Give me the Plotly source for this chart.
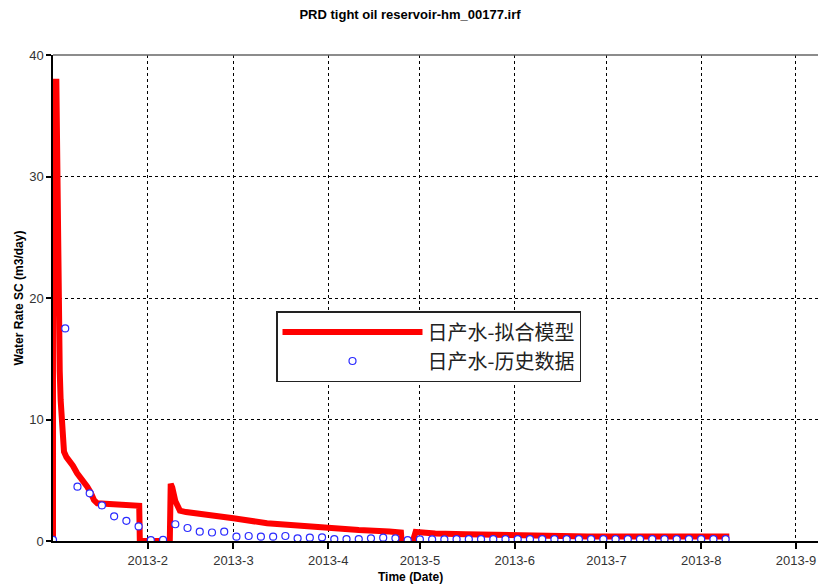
import pandas as pd
import plotly.graph_objects as go

# ---- data ----
start_date = pd.Timestamp("2013-01-01")

# simulated model: day offset from 2013-01-01, water rate (m3/day)
model_day = [0, 0.05, 1.1, 1.3, 1.6, 1.9, 2.2, 2.5, 3.0, 3.6, 4.4, 5.2, 6.5, 7.9, 9.5,
             11.2, 12.3, 13.4, 14.5, 20, 25, 28.2, 28.4, 38.2, 38.5, 39.0, 40.0, 41.5,
             43.5, 48.5, 59, 70, 80, 90, 100, 110, 113.8, 114.0, 117.7, 118.6, 119.5,
             125, 135, 150, 151, 174, 175, 221.2]
model_val = [0, 37.8, 37.8, 32, 25, 17, 14, 11.6, 9.0, 7.35, 6.9, 6.67, 6.2, 5.57, 5.1,
             4.47, 4.0, 3.37, 3.1, 3.05, 2.98, 2.9, 0, 0, 4.7, 4.4, 3.3, 2.5,
             2.38, 2.25, 1.87, 1.46, 1.25, 1.05, 0.9, 0.78, 0.7, 0, 0, 0.75, 0.72,
             0.62, 0.55, 0.48, 0.42, 0.42, 0.37, 0.37]

# history: observed every 4 days from 2013-01-01
hist_val = [0.1, 17.5, 4.47, 3.92, 2.93, 2.03, 1.66, 1.2, 0.08, 0.1, 1.38, 1.07, 0.77,
            0.7, 0.77, 0.36, 0.41, 0.36, 0.36, 0.41, 0.22, 0.27, 0.3, 0.16, 0.16, 0.16,
            0.22, 0.27, 0.22, 0.08, 0.14, 0.14, 0.14,
            0.15, 0.15, 0.15, 0.15, 0.15, 0.15, 0.15, 0.15, 0.15, 0.15, 0.15, 0.15,
            0.15, 0.15, 0.15, 0.15, 0.15, 0.15, 0.15, 0.15, 0.15, 0.15, 0.15]
hist_dates = pd.date_range("2013-01-01", periods=len(hist_val), freq="4D")

x_ticks = ["2013-02-01", "2013-03-01", "2013-04-01", "2013-05-01",
           "2013-06-01", "2013-07-01", "2013-08-01", "2013-09-01"]
x_ticktext = ["2013-2", "2013-3", "2013-4", "2013-5", "2013-6", "2013-7", "2013-8", "2013-9"]
y_ticks = [0, 10, 20, 30, 40]

series_names = ["日产水-拟合模型", "日产水-历史数据"]

model_dates = [start_date + pd.to_timedelta(d, unit="D") for d in model_day]

fig = go.Figure()
fig.add_trace(go.Scatter(
    x=model_dates, y=model_val, mode="lines", name=series_names[0],
    line=dict(color="#FF0000", width=6)))
fig.add_trace(go.Scatter(
    x=hist_dates, y=hist_val, mode="markers", name=series_names[1],
    marker=dict(symbol="circle", size=7, color="white",
                line=dict(color="#2B2BFF", width=1.2))))

W, H = 818, 585
tick_font = dict(family="Liberation Sans, Arial", size=13, color="#333333")
fig.update_layout(
    width=W, height=H,
    margin=dict(l=53, r=0, t=55, b=44),
    paper_bgcolor="white", plot_bgcolor="white",
    title=dict(text="<b>PRD tight oil reservoir-hm_00177.irf</b>",
               x=410 / W, xref="container", xanchor="center",
               y=1 - 14 / H, yref="container", yanchor="middle",
               font=dict(family="Liberation Sans, Arial", size=13, color="black")),
    xaxis=dict(
        type="date",
        range=["2013-01-01", "2013-09-08 05:00"],
        tickvals=x_ticks, ticktext=x_ticktext,
        ticks="outside", ticklen=6, tickwidth=2, tickcolor="black",
        showline=True, linecolor="black", linewidth=2,
        showgrid=True, gridcolor="black", gridwidth=1, griddash="3px,3px",
        zeroline=False, tickfont=tick_font, ticklabeloverflow="allow",
    ),
    yaxis=dict(
        range=[0, 40], tickvals=y_ticks,
        ticks="outside", ticklen=5, tickwidth=2, tickcolor="black",
        showline=True, linecolor="black", linewidth=1.5,
        showgrid=True, gridcolor="black", gridwidth=1, griddash="3px,3px",
        zeroline=False, tickfont=tick_font,
        title=dict(text="<b>Water Rate SC (m3/day)</b>", standoff=3,
                   font=dict(family="Liberation Sans, Arial", size=12, color="black")),
        automargin=False,
    ),
    legend=dict(
        x=(276 - 53) / 765, y=(541 - 311) / 486, xanchor="left", yanchor="top",
        bgcolor="white", bordercolor="#222222", borderwidth=1.5,
        font=dict(family="Noto Sans CJK SC", size=20, color="#222222"),
        itemwidth=140, tracegroupgap=0,
    ),
    showlegend=True,
)

# top frame line
fig.add_shape(type="line", xref="paper", yref="paper", x0=0, x1=1, y0=1, y1=1,
              line=dict(color="#666666", width=1.5))

# x-axis title (offset like the reference)
fig.add_annotation(text="<b>Time (Date)</b>", xref="paper", yref="paper",
                   x=(410 - 53) / 765, y=-(577 - 541) / 486, xanchor="center",
                   yanchor="middle", showarrow=False,
                   font=dict(family="Liberation Sans, Arial", size=12, color="black"))

# remove the browser's default 8px body margin so the figure fills the window exactly
fig.write_html("out.html",
               config={"displayModeBar": False},
               post_script="document.body.style.margin='0';document.body.style.overflow='hidden';")
